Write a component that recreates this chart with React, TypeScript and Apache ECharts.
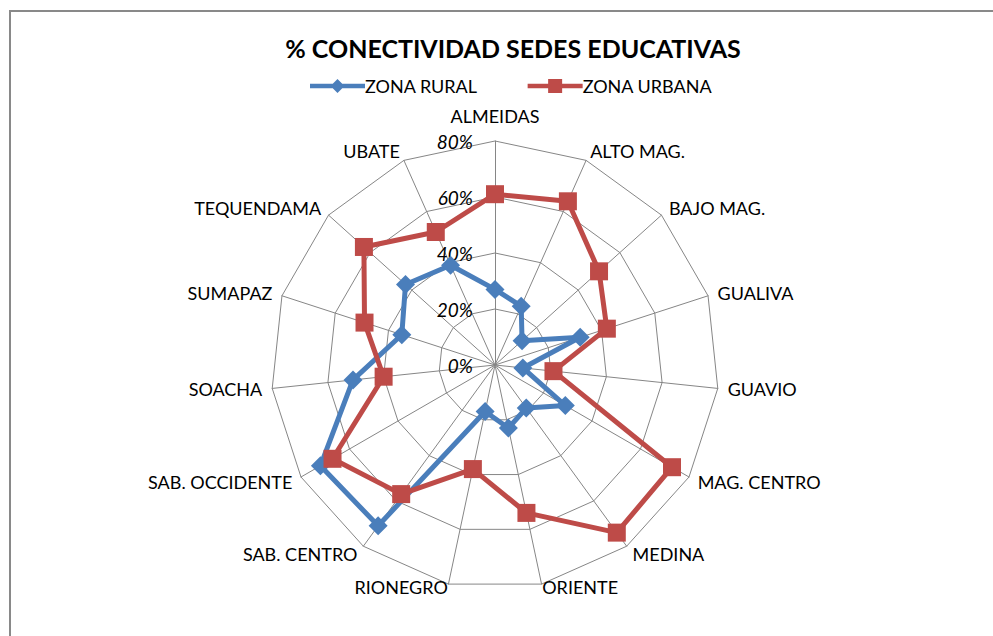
import React, { useEffect, useRef } from 'react';
import * as echarts from 'echarts';

const categories = ['ALMEIDAS', 'ALTO MAG.', 'BAJO MAG.', 'GUALIVA', 'GUAVIO', 'MAG. CENTRO', 'MEDINA', 'ORIENTE', 'RIONEGRO', 'SAB. CENTRO', 'SAB. OCCIDENTE', 'SOACHA', 'SUMAPAZ', 'TEQUENDAMA', 'UBATE'];
const zonaRural = [27, 23, 13, 32, 10, 29, 19, 23, 17, 71, 72, 51, 35, 43, 39];
const zonaUrbana = [61, 64, 50, 42, 21, 73, 74, 54, 38, 57, 67, 40, 49, 63, 52];
const axisMax = 80;
const seriesNames = ['ZONA RURAL', 'ZONA URBANA'];

const FONT = 'Lato, "Open Sans", sans-serif';
const RURAL_COLOR = '#4A7EBB';
const URBAN_COLOR = '#BE4B48';

const ruralIcon =
  'path://M0,4.75L22.75,4.75L27.5,0L32.25,4.75L55,4.75L55,9.25L32.25,9.25L27.5,14L22.75,9.25L0,9.25Z';
const urbanIcon =
  'path://M0,4.75L20.5,4.75L20.5,0L34.5,0L34.5,4.75L55,4.75L55,9.25L34.5,9.25L34.5,14L20.5,14L20.5,9.25L0,9.25Z';

export default function App() {
  const ref = useRef<HTMLDivElement>(null);
  useEffect(() => {
    if (!ref.current) return;
    const chart = echarts.init(ref.current, null, { renderer: 'svg' });
    // ECharts radar places indicators counter-clockwise; reorder to go clockwise
    const order = [0, ...categories.map((_, i) => i).slice(1).reverse()];
    const indicator = order.map((i, k) => {
      const ind: any = { name: categories[i], min: 0, max: axisMax };
      if (k === 0) {
        ind.axisLabel = { show: true };
        ind.nameGap = 16;
      }
      if (categories[i] === 'ORIENTE' || categories[i] === 'RIONEGRO') ind.nameGap = 3;
      return ind;
    });
    const pick = (arr: number[]) => order.map((i) => arr[i]);
    chart.setOption({
      animation: false,
      backgroundColor: '#fff',
      title: {
        text: '% CONECTIVIDAD SEDES EDUCATIVAS',
        left: 508,
        textAlign: 'center',
        top: 30,
        textStyle: { fontFamily: FONT, fontWeight: 'bold', fontSize: 25, color: '#000' },
      },
      legend: {
        top: 72,
        left: 305,
        itemWidth: 55,
        itemHeight: 14,
        itemGap: 50,
        textStyle: { fontFamily: FONT, fontSize: 18, color: '#000', padding: [0, 0, 0, -5] },
        data: [
          { name: seriesNames[0], icon: ruralIcon, itemStyle: { color: RURAL_COLOR } },
          { name: seriesNames[1], icon: urbanIcon, itemStyle: { color: URBAN_COLOR } },
        ],
      },
      radar: {
        center: [495, 365],
        radius: 224,
        startAngle: 90,
        splitNumber: 4,
        shape: 'polygon',
        nameGap: 10,
        axisName: { color: '#000', fontFamily: FONT, fontSize: 18 },
        axisLine: { lineStyle: { color: '#868686', width: 1 } },
        splitLine: { lineStyle: { color: '#868686', width: 1 } },
        splitArea: { show: false },
        axisTick: { show: false },
        axisLabel: {
          show: false,
          formatter: (v: number) => v + '%',
          color: '#000',
          fontFamily: FONT,
          fontStyle: 'italic',
          fontSize: 19,
          margin: 22,
        },
        indicator,
      },
      graphic: [
        {
          type: 'rect',
          shape: { x: 10, y: 11, width: 1200, height: 900 },
          style: { fill: 'none', stroke: '#898989', lineWidth: 2 },
          silent: true,
        },
      ],
      series: [
        {
          type: 'radar',
          z: 2,
          data: [
            {
              name: seriesNames[0],
              value: pick(zonaRural),
              symbol: 'diamond',
              symbolSize: 19,
              lineStyle: { color: RURAL_COLOR, width: 5 },
              itemStyle: { color: RURAL_COLOR },
            },
          ],
        },
        {
          type: 'radar',
          z: 3,
          data: [
            {
              name: seriesNames[1],
              value: pick(zonaUrbana),
              symbol: 'rect',
              symbolSize: 18,
              lineStyle: { color: URBAN_COLOR, width: 5 },
              itemStyle: { color: URBAN_COLOR },
            },
          ],
        },
      ],
    });
    return () => chart.dispose();
  }, []);
  return (
    <div
      ref={ref}
      style={{ position: 'fixed', left: 0, top: 0, width: 993, height: 636, background: '#fff' }}
    />
  );
}
